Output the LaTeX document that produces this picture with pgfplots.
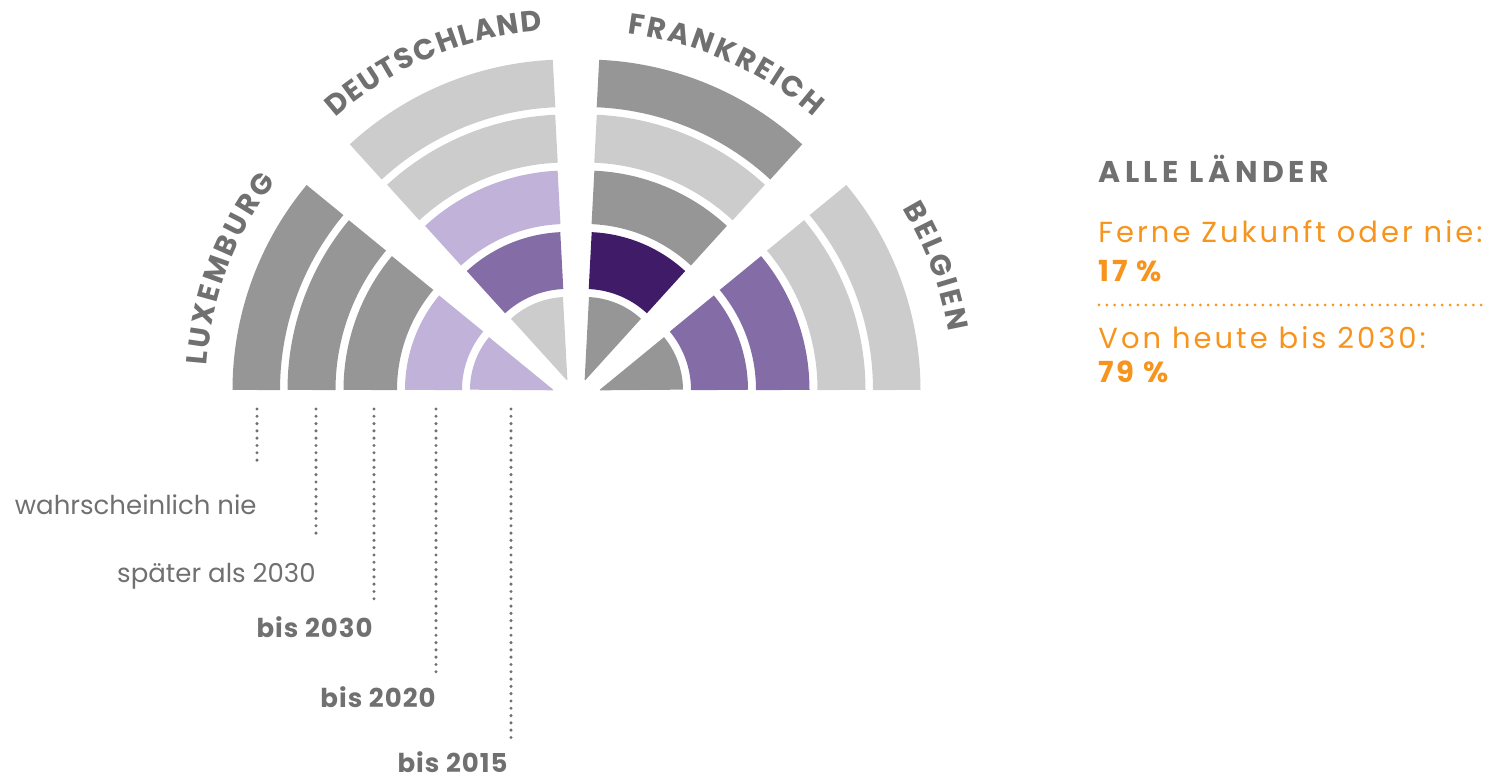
\documentclass[border=0pt]{standalone}
\usepackage{fontspec}
\setmainfont{Poppins}
\usepackage{pgfplots}
\pgfplotsset{compat=1.18}
\usetikzlibrary{decorations.text}
\definecolor{dg}{HTML}{969696}
\definecolor{lg}{HTML}{CCCCCC}
\definecolor{lp}{HTML}{C0B2D8}
\definecolor{mp}{HTML}{846CA6}
\definecolor{dp}{HTML}{401B68}
\definecolor{org}{HTML}{F7941E}
\definecolor{txt}{HTML}{707070}
\definecolor{dotc}{HTML}{707070}
\newcommand\labelfont{\fontsize{14.5pt}{15pt}\selectfont\bfseries}
% segment: apex x, apex y, angle from, angle to, mid radius (px), line width (pt), colour
\newcommand\seg[7]{\addplot[draw=#7, line width=#6, domain=#3:#4, samples=41, variable=\t, forget plot]
  ({#1+#5*cos(\t)},{#2+#5*sin(\t)});}
% ring k: mid radius, width(pt)  (radii [0,83] [91,148] [156,209.5] [217.5,265.5] [273,320.5] px)
\newcommand\ringA[5]{\seg{#1}{#2}{#3}{#4}{41.5}{41.5pt}{#5}}
\newcommand\ringB[5]{\seg{#1}{#2}{#3}{#4}{119.5}{28.5pt}{#5}}
\newcommand\ringC[5]{\seg{#1}{#2}{#3}{#4}{182.75}{26.75pt}{#5}}
\newcommand\ringD[5]{\seg{#1}{#2}{#3}{#4}{241.5}{24pt}{#5}}
\newcommand\ringE[5]{\seg{#1}{#2}{#3}{#4}{296.75}{23.75pt}{#5}}
\newcommand\curvelabel[6]{\addplot[draw=none, domain=0:#5, samples=40, variable=\t, forget plot,
  postaction={decorate}, decoration={text along path, text color=txt, text align=fit to path, text={|\labelfont|#6}}]
  ({#1+#3*cos(#4-\t)},{#2+#3*sin(#4-\t)});}
\begin{document}
\begin{tikzpicture}
\begin{axis}[x=0.5pt, y=0.5pt, xmin=0, xmax=1501, ymin=-781, ymax=0, hide axis, clip=false]
\addplot[draw=none, forget plot] coordinates {(0,0) (1501,-781)};
% LUXEMBURG, apex (553,390)
\ringA{553}{-390}{140.2}{180}{lp}
\ringB{553}{-390}{140.2}{180}{lp}
\ringC{553}{-390}{140.2}{180}{dg}
\ringD{553}{-390}{140.2}{180}{dg}
\ringE{553}{-390}{140.2}{180}{dg}
% DEUTSCHLAND, apex (567,380)
\ringA{567}{-380}{92.5}{132.7}{lg}
\ringB{567}{-380}{92.5}{132.7}{mp}
\ringC{567}{-380}{92.5}{132.7}{lp}
\ringD{567}{-380}{92.5}{132.7}{lg}
\ringE{567}{-380}{92.5}{132.7}{lg}
% FRANKREICH, apex (585,380)
\ringA{585}{-380}{47.3}{87.5}{dg}
\ringB{585}{-380}{47.3}{87.5}{dp}
\ringC{585}{-380}{47.3}{87.5}{dg}
\ringD{585}{-380}{47.3}{87.5}{lg}
\ringE{585}{-380}{47.3}{87.5}{dg}
% BELGIEN, apex (600,390)
\ringA{600}{-390}{0}{39.8}{dg}
\ringB{600}{-390}{0}{39.8}{mp}
\ringC{600}{-390}{0}{39.8}{mp}
\ringD{600}{-390}{0}{39.8}{lg}
\ringE{600}{-390}{0}{39.8}{lg}
% curved country labels
\curvelabel{553}{-390}{347}{176}{33}{LUXEMBURG}
\curvelabel{567}{-380}{350}{131.5}{37.5}{DEUTSCHLAND}
\curvelabel{585}{-380}{349}{83}{34}{FRANKREICH}
\curvelabel{600}{-390}{353}{31}{21.5}{BELGIEN}
% leader lines
\addplot[dotc, line width=1.7pt, line cap=round, dash pattern=on 0pt off 3.65pt, forget plot] coordinates {(257,-409) (257,-465)};
\addplot[dotc, line width=1.7pt, line cap=round, dash pattern=on 0pt off 3.65pt, forget plot] coordinates {(316,-409) (316,-537)};
\addplot[dotc, line width=1.7pt, line cap=round, dash pattern=on 0pt off 3.65pt, forget plot] coordinates {(374,-409) (374,-603)};
\addplot[dotc, line width=1.7pt, line cap=round, dash pattern=on 0pt off 3.65pt, forget plot] coordinates {(436,-409) (436,-672)};
\addplot[dotc, line width=1.7pt, line cap=round, dash pattern=on 0pt off 3.65pt, forget plot] coordinates {(511,-409) (511,-738)};
\node[anchor=base east, inner sep=0pt, text=txt, font=\fontsize{13pt}{13pt}\selectfont] at (axis cs:257,-515) {wahrscheinlich nie};
\node[anchor=base east, inner sep=0pt, text=txt, font=\fontsize{13pt}{13pt}\selectfont] at (axis cs:316,-583) {später als 2030};
\node[anchor=base east, inner sep=0pt, text=txt, font=\fontsize{13pt}{13pt}\selectfont\bfseries\addfontfeature{LetterSpace=4}] at (axis cs:373,-638) {bis 2030};
\node[anchor=base east, inner sep=0pt, text=txt, font=\fontsize{13pt}{13pt}\selectfont\bfseries\addfontfeature{LetterSpace=4}] at (axis cs:436,-708) {bis 2020};
\node[anchor=base east, inner sep=0pt, text=txt, font=\fontsize{13pt}{13pt}\selectfont\bfseries\addfontfeature{LetterSpace=4}] at (axis cs:508,-773) {bis 2015};
% summary
\node[anchor=base west, inner sep=0pt, text=txt, font=\fontsize{15pt}{15pt}\selectfont\bfseries\addfontfeature{LetterSpace=15}] at (axis cs:1098,-183) {ALLE LÄNDER};
\node[anchor=base west, inner sep=0pt, text=org, font=\fontsize{14.5pt}{14.5pt}\selectfont\addfontfeature{LetterSpace=10.5}] at (axis cs:1098,-243) {Ferne Zukunft oder nie:};
\node[anchor=base west, inner sep=0pt, text=org, font=\fontsize{14.5pt}{14.5pt}\selectfont\bfseries\addfontfeature{LetterSpace=10}] at (axis cs:1098,-282) {17 \%};
\addplot[org, line width=1.5pt, line cap=round, dash pattern=on 0pt off 3.9pt, forget plot] coordinates {(1099,-305) (1487,-305)};
\node[anchor=base west, inner sep=0pt, text=org, font=\fontsize{14.5pt}{14.5pt}\selectfont\addfontfeature{LetterSpace=10.5}] at (axis cs:1098,-349) {Von heute bis 2030:};
\node[anchor=base west, inner sep=0pt, text=org, font=\fontsize{14.5pt}{14.5pt}\selectfont\bfseries\addfontfeature{LetterSpace=10}] at (axis cs:1098,-383) {79 \%};
\end{axis}
\end{tikzpicture}
\end{document}
